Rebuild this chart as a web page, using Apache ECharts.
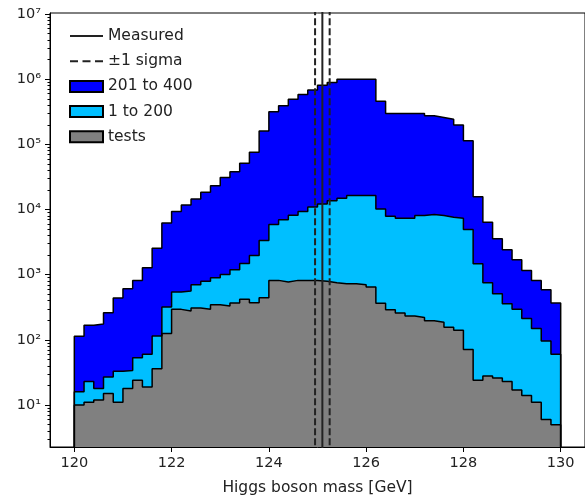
<!DOCTYPE html>
<html>
<head>
<meta charset="utf-8">
<script src="https://cdn.jsdelivr.net/npm/echarts@6/dist/echarts.min.js"></script>
<style>
html, body { margin: 0; padding: 0; background: #fff; }
#main { width: 585px; height: 501px; }
</style>
</head>
<body>
<div id="main"></div>
<script>
// histogram bins: 50 bins of 0.2 GeV from 120 to 130
var binStart = 120;
var binWidth = 0.2;

var tests = [10, 11, 12, 15, 11, 18, 24, 19, 36, 125,
    294, 278, 309, 295, 347, 331, 368, 419, 372, 444,
    819, 772, 819, 819, 819, 791, 755, 728, 728, 700,
    647, 366, 291, 259, 233, 220, 197, 186, 156, 141,
    71, 24, 28, 26, 23, 17, 14, 11, 6, 5];
var low = [6, 12, 6, 12, 22, 16, 29, 41, 79, 195,
    249, 285, 394, 496, 553, 679, 822, 1071, 1608, 2906,
    5071, 6178, 7371, 8491, 10181, 11409, 12945, 14172, 15672, 15700,
    15753, 9834, 7609, 7101, 7127, 7870, 8183, 7904, 7484, 7219,
    4869, 1446, 727, 486, 337, 277, 198, 138, 90, 55];
var high = [98, 145, 158, 235, 406, 577, 766, 1220, 2445, 5930,
    8767, 11237, 13847, 17609, 22400, 30190, 37010, 49710, 73520, 156650,
    310110, 384050, 485810, 572690, 676000, 796800, 875300, 985100, 983600, 983600,
    983600, 449800, 290100, 290640, 290640, 289910, 266620, 250910, 236360, 190640,
    109060, 14330, 5645, 3048, 2060, 1406, 948, 670, 493, 308];

var measured = 125.1;
var sigma = 0.15;

var xTicks = [120, 122, 124, 126, 128, 130];
var yTicks = [10, 100, 1e3, 1e4, 1e5, 1e6, 1e7];

var sup = ['\u2070', '\u00b9', '\u00b2', '\u00b3', '\u2074', '\u2075', '\u2076', '\u2077'];
var yMin = 2.27, yMax = 1.04e7;
var FLOOR = 0.1; // below the axis, clipped away

// minor log ticks 2..9 x 10^n inside the axis range
var minorTicks = [];
for (var p = 0; p <= 6; p++) {
    for (var m = 2; m <= 9; m++) {
        var mv = m * Math.pow(10, p);
        if (mv > yMin && mv < yMax) minorTicks.push(mv);
    }
}

// stacked step outline: points at left bin edges, closed down to the floor
function stepData(layers) {
    var n = tests.length;
    var pts = [[binStart, FLOOR]];
    var last = 0;
    for (var i = 0; i < n; i++) {
        var v = 0;
        layers.forEach(function (a) { v += a[i]; });
        pts.push([binStart + i * binWidth, v]);
        last = v;
    }
    pts.push([binStart + n * binWidth, last]);
    pts.push([binStart + n * binWidth, FLOOR]);
    return pts;
}

function vline(x) {
    return [[x, FLOOR], [x, 1e9]];
}

var font = 'DejaVu Sans';
var ink = '#222';

// legend handles: thin bars inside a 33x11 box (tiny corner dots keep the box size)
var CORNERS = 'M0,0L0.01,0L0.01,0.01Z M32.99,11L33,11L33,10.99Z ';
var solidIcon = 'path://' + CORNERS + 'M0,4.5L33,4.5L33,6.5L0,6.5Z';
var dashIcon = 'path://' + CORNERS +
    'M0,4.5L8,4.5L8,6.5L0,6.5Z M12.5,4.5L20.5,4.5L20.5,6.5L12.5,6.5Z M25,4.5L33,4.5L33,6.5L25,6.5Z';

var dom = document.getElementById('main');
var myChart = echarts.init(dom, null, { renderer: 'canvas' });

function histSeries(name, layers, color) {
    return {
        name: name,
        type: 'line',
        step: 'end',
        symbol: 'none',
        silent: true,
        data: stepData(layers),
        itemStyle: { color: color, borderColor: '#000', borderWidth: 1.2 },
        lineStyle: { color: '#000', width: 1.5 },
        areaStyle: { color: color, opacity: 1, origin: 'start' },
        z: 2
    };
}

var option = {
    animation: false,
    backgroundColor: '#fff',
    textStyle: { fontFamily: font },
    grid: {
        left: 50,
        right: -4,
        top: 13,
        bottom: 53,
        show: true,
        borderColor: '#000',
        borderWidth: 1,
        backgroundColor: 'transparent'
    },
    legend: {
        show: true,
        orient: 'vertical',
        left: 64,
        top: 23,
        right: 'auto',
        bottom: 'auto',
        itemWidth: 33,
        itemHeight: 11,
        itemGap: 9.2,
        textStyle: { fontFamily: font, fontSize: 15.5, color: ink },
        data: [
            { name: 'Measured', icon: solidIcon },
            { name: '\u00b11 sigma', icon: dashIcon },
            { name: '201 to 400', icon: 'rect' },
            { name: '1 to 200', icon: 'rect' },
            { name: 'tests', icon: 'rect' }
        ]
    },
    xAxis: {
        type: 'value',
        min: 119.5,
        max: 130.5,
        name: 'Higgs boson mass [GeV]',
        nameLocation: 'middle',
        nameGap: 33,
        nameTextStyle: { fontFamily: font, fontSize: 15.5, color: ink },
        splitLine: { show: false },
        axisLine: { onZero: false, lineStyle: { color: '#000', width: 1 } },
        axisTick: { customValues: xTicks, length: 5, lineStyle: { color: '#000' } },
        axisLabel: { customValues: xTicks, margin: 9, fontFamily: font, fontSize: 14.5, color: ink }
    },
    yAxis: [{
        type: 'log',
        logBase: 10,
        min: yMin,
        max: yMax,
        splitLine: { show: false },
        axisLine: { show: true, lineStyle: { color: '#000', width: 1 } },
        axisTick: { customValues: yTicks, length: 5, lineStyle: { color: '#000' } },
        axisLabel: {
            customValues: yTicks,
            margin: 9,
            fontFamily: font,
            fontSize: 14.5,
            color: ink,
            formatter: function (v) {
                return '10' + sup[Math.round(Math.log10(v))];
            }
        }
    }, {
        type: 'log',
        logBase: 10,
        min: yMin,
        max: yMax,
        position: 'left',
        splitLine: { show: false },
        axisLine: { show: false },
        axisLabel: { show: false },
        axisTick: { customValues: minorTicks, length: 2.5, lineStyle: { color: '#000' } }
    }],
    series: [
        histSeries('201 to 400', [tests, low, high], '#0000ff'),
        histSeries('1 to 200', [tests, low], '#00bfff'),
        histSeries('tests', [tests], '#808080'),
        {
            name: 'Measured',
            type: 'line',
            symbol: 'none',
            silent: true,
            data: vline(measured),
            lineStyle: { color: ink, width: 2 },
            itemStyle: { color: ink },
            z: 5
        },
        {
            name: '\u00b11 sigma',
            type: 'line',
            symbol: 'none',
            silent: true,
            data: vline(measured - sigma),
            lineStyle: { color: ink, width: 2, type: [7, 3] },
            itemStyle: { color: ink },
            z: 5
        },
        {
            name: '\u00b11 sigma',
            type: 'line',
            symbol: 'none',
            silent: true,
            data: vline(measured + sigma),
            lineStyle: { color: ink, width: 2, type: [7, 3] },
            itemStyle: { color: ink },
            z: 5
        }
    ]
};

if (option && typeof option === 'object') {
    myChart.setOption(option, true);
}
</script>
</body>
</html>
